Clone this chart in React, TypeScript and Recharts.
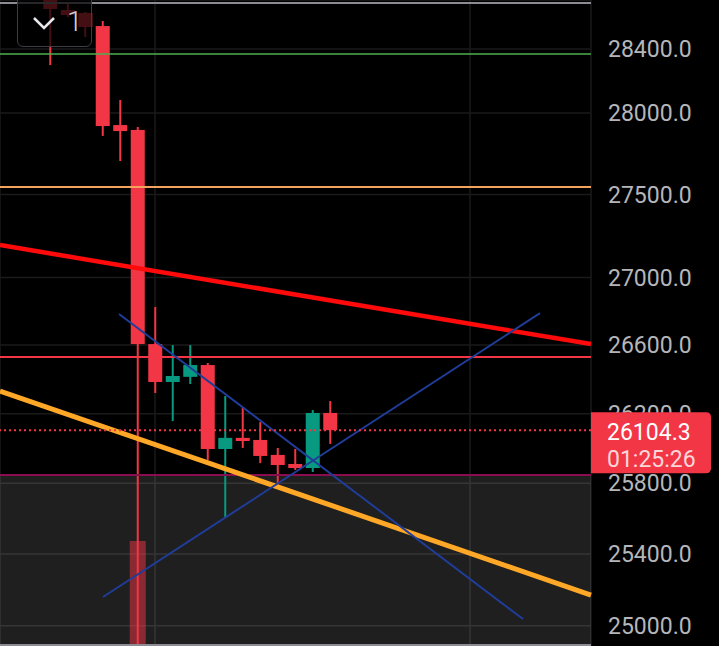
import React from 'react'
import {
  ComposedChart,
  Bar,
  XAxis,
  YAxis,
  CartesianGrid,
  ReferenceLine,
  ReferenceArea,
} from 'recharts'

// candle slots (one per bar, left to right)
const slots = [0, 1, 2, 3, 4, 5, 6, 7, 8, 9, 10, 11, 12, 13, 14, 15, 16]
const opens = [28730, 28646, 28627, 28544, 27926, 27896, 26606, 26384, 26414, 26483, 25996, 26060, 26048, 25962, 25910, 25887, 26204]
const highs = [28790, 28696, 28633, 28576, 28081, 27914, 26825, 26600, 26600, 26495, 26302, 26238, 26151, 26002, 25996, 26221, 26273]
const lows = [28299, 28601, 28475, 27859, 27705, 24850, 26320, 26157, 26372, 25933, 25608, 26002, 25915, 25784, 25876, 25864, 26025]
const closes = [28652, 28614, 28538, 27920, 27889, 26606, 26384, 26419, 26483, 25996, 26060, 26042, 25956, 25904, 25887, 26204, 26104.3]
const volumes = [0, 0, 0, 0, 0, 9.75, 0, 0, 0, 0, 0, 0, 0, 0, 0, 0, 0]

const priceTicks = [25000, 25400, 25800, 26200, 26600, 27000, 27500, 28000, 28400]
const lastPrice = 26104.3
const countdown = '01:25:26'

// horizontal levels drawn on the chart
const greenLevel = 28368
const orangeLevel = 27546
const redLevel = 26530
const purpleLevel = 25847

// trend lines: [slot, price] pairs
const redTrend = [[-2.857, 27195], [30.914, 26606]]
const orangeTrend = [[-2.857, 26331], [30.914, 25170]]
const blueDown = [[3.943, 26784], [27.03, 25037]]
const blueUp = [[3.029, 25159], [28.0, 26789]]

const X_DOMAIN = [-2.857, 30.914]
const Y_DOMAIN = [24888, 28709]

const RED = '#f23645'
const GREEN = '#089981'
const FONT = 'Roboto'

const data = slots.map((s, i) => ({
  slot: s,
  open: opens[i],
  high: highs[i],
  low: lows[i],
  close: closes[i],
  volume: volumes[i],
}))

const seg = (pts: number[][]) => pts.map(([x, y]) => ({ x, y }))

function Candle(props: any) {
  const { x, y, width, height, payload } = props
  const { open, close, high, low } = payload
  const span = Math.log(high) - Math.log(low) || 1
  const toY = (p: number) => y + (height * (Math.log(high) - Math.log(p))) / span
  const color = close >= open ? GREEN : RED
  const cx = x + width / 2
  const top = toY(Math.max(open, close))
  const bot = toY(Math.min(open, close))
  return (
    <g>
      <line x1={cx} x2={cx} y1={y} y2={y + height} stroke={color} strokeWidth={2} />
      <rect x={x} y={top} width={width} height={Math.max(bot - top, 3)} fill={color} />
    </g>
  )
}

function PriceTag(props: any) {
  const { viewBox } = props
  if (!viewBox) return null
  const x = viewBox.x + viewBox.width
  const y = viewBox.y
  const w = 120
  const top = y - 18
  const h = 61
  const r = 5
  return (
    <g>
      <path
        d={`M${x},${top} H${x + w - r} Q${x + w},${top} ${x + w},${top + r} V${top + h - r} Q${x + w},${top + h} ${x + w - r},${top + h} H${x} Z`}
        fill={RED}
      />
      <text x={x + 16} y={y + 2} dy="0.355em" fill="#ffffff" fontSize={23} fontFamily={FONT}>
        {lastPrice.toFixed(1)}
      </text>
      <text x={x + 16} y={y + 29} dy="0.355em" fill="#fbd7da" fontSize={23} fontFamily={FONT}>
        {countdown}
      </text>
    </g>
  )
}

export default function App() {
  return (
    <div style={{ position: 'fixed', left: 0, top: 0, width: 719, height: 646, background: '#000', overflow: 'hidden' }}>
      <ComposedChart width={719} height={646} data={data} margin={{ top: 0, right: 0, bottom: 0, left: 0 }}>
        <CartesianGrid stroke="#1a1a1a" strokeWidth={1.5} />
        <XAxis dataKey="slot" type="number" domain={X_DOMAIN} ticks={[6, 24]} hide allowDataOverflow />
        <XAxis xAxisId="v" dataKey="slot" type="number" domain={X_DOMAIN} hide allowDataOverflow />
        <YAxis
          orientation="right"
          type="number"
          scale="log"
          domain={Y_DOMAIN}
          ticks={priceTicks}
          allowDataOverflow
          width={128}
          axisLine={false}
          tickLine={false}
          tickSize={6}
          tickMargin={11}
          tick={{ fill: '#b5b6ba', fontSize: 23, fontFamily: FONT }}
          tickFormatter={(v: number) => v.toFixed(1)}
        />
        <YAxis yAxisId="v" domain={[0, 60]} hide />
        <ReferenceArea y1={Y_DOMAIN[0]} y2={purpleLevel} fill="#ffffff" fillOpacity={0.12} ifOverflow="visible" />
        <Bar
          xAxisId="v"
          yAxisId="v"
          dataKey="volume"
          barSize={16}
          fill={RED}
          fillOpacity={0.5}
          isAnimationActive={false}
        />
        <Bar
          dataKey={(d: any) => [d.low, d.high]}
          barSize={14}
          shape={<Candle />}
          isAnimationActive={false}
        />
        <ReferenceLine y={greenLevel} stroke="#4caf50" strokeWidth={1.5} />
        <ReferenceLine y={orangeLevel} stroke="#f5a35c" strokeWidth={2} />
        <ReferenceLine y={redLevel} stroke={RED} strokeWidth={2} />
        <ReferenceLine y={purpleLevel} stroke="#880e4f" strokeWidth={2} />
        <ReferenceLine segment={seg(redTrend)} stroke="#ff0a0a" strokeWidth={4.5} ifOverflow="visible" />
        <ReferenceLine segment={seg(orangeTrend)} stroke="#ffa726" strokeWidth={5} ifOverflow="visible" />
        <ReferenceLine segment={seg(blueDown)} stroke="#1f3d99" strokeWidth={2} ifOverflow="visible" />
        <ReferenceLine segment={seg(blueUp)} stroke="#1f3d99" strokeWidth={2} ifOverflow="visible" />
        <ReferenceLine y={lastPrice} stroke={RED} strokeWidth={2} strokeDasharray="2 3" />
      </ComposedChart>
      {/* price tag sits in its own layer so it covers the axis labels */}
      <div style={{ position: 'absolute', left: 0, top: 0 }}>
        <ComposedChart width={719} height={646} data={data} margin={{ top: 0, right: 128, bottom: 0, left: 0 }}>
          <XAxis dataKey="slot" type="number" domain={X_DOMAIN} hide allowDataOverflow />
          <YAxis type="number" scale="log" domain={Y_DOMAIN} hide allowDataOverflow />
          <ReferenceLine
            y={lastPrice}
            stroke="none"
            ifOverflow="visible"
            label={(p: any) => <PriceTag {...p} />}
          />
        </ComposedChart>
      </div>
      <div style={{ position: 'absolute', left: 0, top: 2, width: 591, height: 2, background: '#8c8c92' }} />
      <div style={{ position: 'absolute', left: 0, top: 644, width: 591, height: 2, background: '#8c8c92' }} />
      <div
        style={{
          position: 'absolute',
          left: 17,
          top: -8,
          width: 75,
          height: 55,
          boxSizing: 'border-box',
          border: '1.5px solid #3b3e45',
          borderRadius: 6,
          background: 'rgba(0,0,0,0.72)',
        }}
      >
        <svg width={30} height={20} style={{ position: 'absolute', left: 13, top: 22 }}>
          <polyline points="3,3 13,13 23,3" fill="none" stroke="#e8e8ec" strokeWidth={2.5} />
        </svg>
        <div
          style={{
            position: 'absolute',
            left: 49,
            top: 12,
            fontFamily: FONT,
            fontWeight: 300,
            fontSize: 28,
            lineHeight: '34px',
            color: '#d1d4dc',
          }}
        >
          1
        </div>
      </div>
    </div>
  )
}
